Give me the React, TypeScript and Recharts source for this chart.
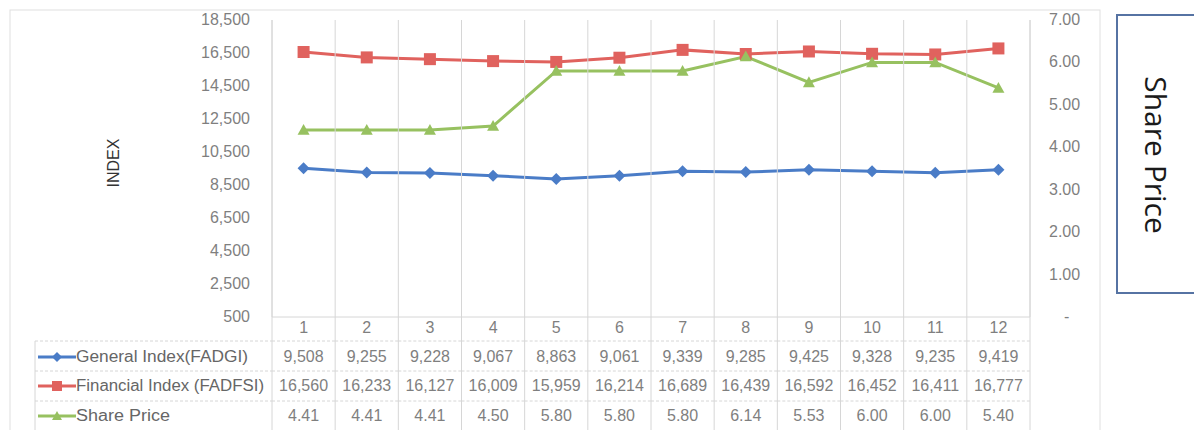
import React from 'react';
import { LineChart, Line, XAxis, YAxis } from 'recharts';

const CATEGORIES = ['1', '2', '3', '4', '5', '6', '7', '8', '9', '10', '11', '12'];
const GENERAL_INDEX = [9508, 9255, 9228, 9067, 8863, 9061, 9339, 9285, 9425, 9328, 9235, 9419];
const FINANCIAL_INDEX = [16560, 16233, 16127, 16009, 15959, 16214, 16689, 16439, 16592, 16452, 16411, 16777];
const SHARE_PRICE = [4.41, 4.41, 4.41, 4.5, 5.8, 5.8, 5.8, 6.14, 5.53, 6.0, 6.0, 5.4];
const LEFT_TICKS = [500, 2500, 4500, 6500, 8500, 10500, 12500, 14500, 16500, 18500];
const RIGHT_TICKS = [0, 1, 2, 3, 4, 5, 6, 7];

const SERIES_NAMES = ['General Index(FADGI)', 'Financial Index (FADFSI)', 'Share Price'];
const NAME_WIDTHS = [172, 188, 94];

const BLUE = '#4a7cc7';
const RED = '#e0625e';
const GREEN = '#97c160';
const GRID = '#d6d6d6';
const TEXT = '#7f7f7f';
const FONT = '"Liberation Sans", Arial, sans-serif';

// layout
const W = 1194;
const H = 430;
const PLOT_TOP = 20;
const PLOT_LEFT = 272;
const PLOT_RIGHT = 1030;
const PLOT_BOTTOM = 317;
const BAND = (PLOT_RIGHT - PLOT_LEFT) / CATEGORIES.length;
const ROW_Y = [328, 357, 386, 416];
const ROW_LINES = [341, 371, 401];

const data = CATEGORIES.map((c, i) => ({
  name: c,
  general: GENERAL_INDEX[i],
  financial: FINANCIAL_INDEX[i],
  share: SHARE_PRICE[i],
}));

const fmtInt = (v: number) => v.toLocaleString('en-US');
const fmtPrice = (v: number) => v.toFixed(2);

const Diamond = ({ cx, cy, r = 6, fill }: any) => (
  <path d={`M${cx},${cy - r} L${cx + r},${cy} L${cx},${cy + r} L${cx - r},${cy} Z`} fill={fill} />
);
const Square = ({ cx, cy, r = 6, fill }: any) => (
  <rect x={cx - r} y={cy - r} width={r * 2} height={r * 2} fill={fill} />
);
const Triangle = ({ cx, cy, r = 6, fill }: any) => (
  <path d={`M${cx},${cy - r} L${cx + r},${cy + r * 0.8} L${cx - r},${cy + r * 0.8} Z`} fill={fill} />
);

const LeftTick = ({ y, payload }: any) => (
  <text x={250} y={y} dy={5} textAnchor="end" fontSize={16} fill={TEXT} fontFamily={FONT}>
    {fmtInt(payload.value)}
  </text>
);

const RightTick = ({ y, payload }: any) => (
  <text
    x={payload.value === 0 ? 1064 : 1049}
    y={y}
    dy={5}
    textAnchor="start"
    fontSize={16}
    fill={TEXT}
    fontFamily={FONT}
  >
    {payload.value === 0 ? '-' : fmtPrice(payload.value)}
  </text>
);

// each category tick draws its column of the data table
const TableTick = (props: any) => {
  const { x, index } = props;
  const x0 = x - BAND / 2;
  const vals = [
    CATEGORIES[index],
    fmtInt(GENERAL_INDEX[index]),
    fmtInt(FINANCIAL_INDEX[index]),
    fmtPrice(SHARE_PRICE[index]),
  ];
  return (
    <g>
      <line x1={x0} x2={x0} y1={PLOT_TOP} y2={H} stroke={GRID} />
      {index === CATEGORIES.length - 1 && (
        <line x1={x0 + BAND} x2={x0 + BAND} y1={PLOT_TOP} y2={H} stroke={GRID} />
      )}
      {ROW_LINES.map((ly) => (
        <line key={ly} x1={x0} x2={x0 + BAND} y1={ly} y2={ly} stroke={GRID} strokeDasharray="3 2" />
      ))}
      {vals.map((v, r) => (
        <text
          key={r}
          x={x}
          y={ROW_Y[r]}
          dy={5}
          textAnchor="middle"
          fontSize={16}
          fill={TEXT}
          fontFamily={FONT}
        >
          {v}
        </text>
      ))}
    </g>
  );
};

const Overlay = () => {
  const colors = [BLUE, RED, GREEN];
  const shapes = [Diamond, Square, Triangle];
  return (
    <svg width={W} height={H} style={{ position: 'absolute', left: 0, top: 0, pointerEvents: 'none' }}>
      <rect x={10} y={10} width={1090} height={440} fill="none" stroke="#e0e0e0" />
      <text
        transform="translate(119,163) rotate(-90)"
        textAnchor="middle"
        fontSize={16}
        fill="#333"
        fontFamily={FONT}
      >
        INDEX
      </text>
      <line x1={35} x2={35} y1={ROW_LINES[0]} y2={H} stroke={GRID} />
      {ROW_LINES.map((ly) => (
        <line key={ly} x1={35} x2={PLOT_LEFT} y1={ly} y2={ly} stroke={GRID} strokeDasharray="3 2" />
      ))}
      {SERIES_NAMES.map((n, i) => {
        const Shape = shapes[i];
        const cy = ROW_Y[i + 1];
        return (
          <g key={n}>
            <line x1={38} x2={76} y1={cy} y2={cy} stroke={colors[i]} strokeWidth={3} />
            <Shape cx={57} cy={cy} r={5} fill={colors[i]} />
            <text
              x={76}
              y={cy}
              dy={5}
              fontSize={16}
              fill="#666"
              fontFamily={FONT}
              textLength={NAME_WIDTHS[i]}
              lengthAdjust="spacingAndGlyphs"
            >
              {n}
            </text>
          </g>
        );
      })}
      <rect x={1117} y={15} width={100} height={278} fill="#fff" stroke="#5673a3" strokeWidth={2} />
      <text
        transform="translate(1145,155) rotate(90)"
        textAnchor="middle"
        fontSize={30}
        fill="#1a1a1a"
        fontFamily='"Open Sans", sans-serif'
      >
        Share Price
      </text>
    </svg>
  );
};

export default function App() {
  return (
    <div style={{ position: 'absolute', left: 0, top: 0, width: W, height: H, background: '#fff', overflow: 'hidden' }}>
      <LineChart
        width={W}
        height={H}
        data={data}
        margin={{ top: PLOT_TOP, right: W - PLOT_RIGHT - 70, bottom: 0, left: 0 }}
      >
        <XAxis
          dataKey="name"
          xAxisId="x"
          scale="band"
          height={H - PLOT_BOTTOM}
          interval={0}
          tickLine={false}
          axisLine={{ stroke: GRID }}
          tick={<TableTick />}
        />
        <YAxis
          yAxisId="left"
          width={PLOT_LEFT}
          domain={[500, 18500]}
          ticks={LEFT_TICKS}
          tickLine={false}
          axisLine={{ stroke: GRID }}
          tick={<LeftTick />}
          interval={0}
        />
        <YAxis
          yAxisId="right"
          orientation="right"
          width={70}
          domain={[0, 7]}
          ticks={RIGHT_TICKS}
          tickLine={false}
          axisLine={{ stroke: GRID }}
          tick={<RightTick />}
          interval={0}
        />
        <Line
          xAxisId="x"
          yAxisId="left"
          dataKey="general"
          stroke={BLUE}
          strokeWidth={3}
          isAnimationActive={false}
          dot={(p: any) => <Diamond key={p.index} cx={p.cx} cy={p.cy} r={6} fill={BLUE} />}
        />
        <Line
          xAxisId="x"
          yAxisId="left"
          dataKey="financial"
          stroke={RED}
          strokeWidth={3}
          isAnimationActive={false}
          dot={(p: any) => <Square key={p.index} cx={p.cx} cy={p.cy} r={6} fill={RED} />}
        />
        <Line
          xAxisId="x"
          yAxisId="right"
          dataKey="share"
          stroke={GREEN}
          strokeWidth={3}
          isAnimationActive={false}
          dot={(p: any) => <Triangle key={p.index} cx={p.cx} cy={p.cy} r={6} fill={GREEN} />}
        />
      </LineChart>
      <Overlay />
    </div>
  );
}
